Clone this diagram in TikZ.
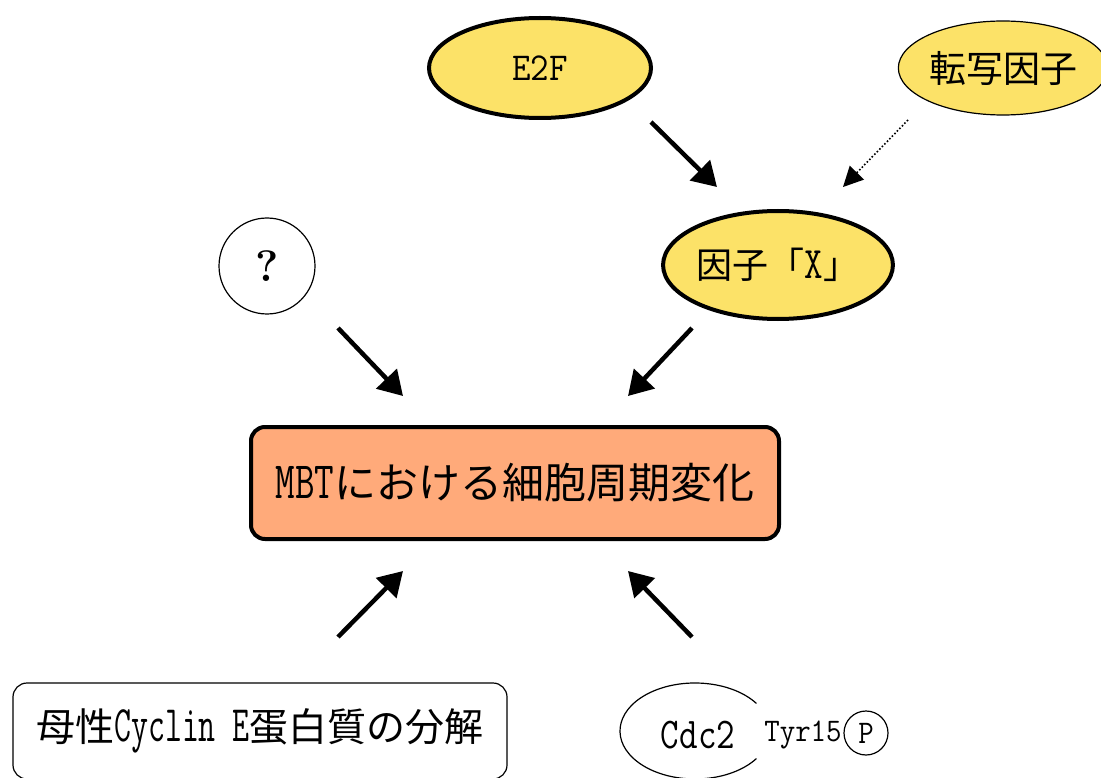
\documentclass[tikz,border=0pt]{standalone}
\usepackage{fontspec}
\newfontfamily\jp{Noto Sans CJK JP}
\usetikzlibrary{arrows.meta,shapes.geometric}
\definecolor{yel}{RGB}{252,226,104}
\definecolor{org}{RGB}{255,170,122}
\newcommand{\fs}[1]{\fontsize{#1}{#1}\selectfont}
\newcommand{\lt}[3]{\scalebox{1}[#1]{\fs{#2}#3}}
\begin{document}
\begin{tikzpicture}[x=1pt,y=-1pt,font=\ttfamily,
  yelthick/.style={ellipse,draw,line width=4pt,fill=yel,inner sep=0pt},
  yelthin/.style={ellipse,draw,line width=1.2pt,fill=yel,inner sep=0pt},
  arr/.style={line width=4.5pt,-{Triangle[length=24pt,width=28pt]}},
  dotarr/.style={line width=1.6pt,dotted,-{Triangle[length=20pt,width=20pt,line width=0pt]}}]
\useasboundingbox (0,0) rectangle (1101,778);
% nodes
\node[yelthick,minimum width=222pt,minimum height=100pt] (e2f) at (540,68) {\lt{1.1}{36}{E2F}};
\node[yelthin,minimum width=190pt,minimum height=94pt] (tf) at (1003,68) {\fs{37}\jp 転写因子};
\node[yelthick,minimum width=218pt,minimum height=108pt] (x) at (778,265) {{\jp\fs{36}因子「}\lt{1.25}{36}{X}{\jp\fs{36}」}};
\node[circle,draw,line width=1.2pt,minimum size=96pt,inner sep=0pt] (q) at (267,266) {\fs{44}\rmfamily\bfseries ?};
\node[draw,line width=4pt,rounded corners=14pt,fill=org,minimum width=528pt,minimum height=112pt,inner sep=0pt] (mbt) at (515,483) {\lt{1.38}{38}{MBT}{\jp\fs{42}における細胞周期変化}};
\node[draw,line width=1.2pt,rounded corners=14pt,minimum width=494pt,minimum height=96pt,inner sep=0pt] (cyc) at (260,731) {{\jp\fs{39}母性}\lt{1.55}{33}{Cyclin E}{\jp\fs{39}蛋白質の分解}};
\node (cdc) at (698,735) {\lt{1.22}{36}{Cdc2}};
\node (tyr) at (803,735) {\lt{1.1}{30}{Tyr15}};
\node[circle,draw,line width=1.2pt,minimum size=44pt,inner sep=0pt] (p) at (866,733) {\lt{1.1}{30}{P}};
\draw[line width=1.2pt] ([shift={(35:75pt and 48pt)}]695,731) arc[start angle=35,end angle=325,x radius=75pt,y radius=48pt];
% arrow coordinates
\coordinate (a1s) at (651,122); \coordinate (a1e) at (717,187);
\coordinate (a2s) at (908,120); \coordinate (a2e) at (843,187);
\coordinate (a3s) at (338,328); \coordinate (a3e) at (403,396);
\coordinate (a4s) at (692,328); \coordinate (a4e) at (628,396);
\coordinate (a5s) at (338,637); \coordinate (a5e) at (403,571);
\coordinate (a6s) at (692,637); \coordinate (a6e) at (628,571);
\draw[arr] (a1s) -- (a1e);
\draw[dotarr] (a2s) -- (a2e);
\draw[arr] (a3s) -- (a3e);
\draw[arr] (a4s) -- (a4e);
\draw[arr] (a5s) -- (a5e);
\draw[arr] (a6s) -- (a6e);
\end{tikzpicture}
\end{document}
